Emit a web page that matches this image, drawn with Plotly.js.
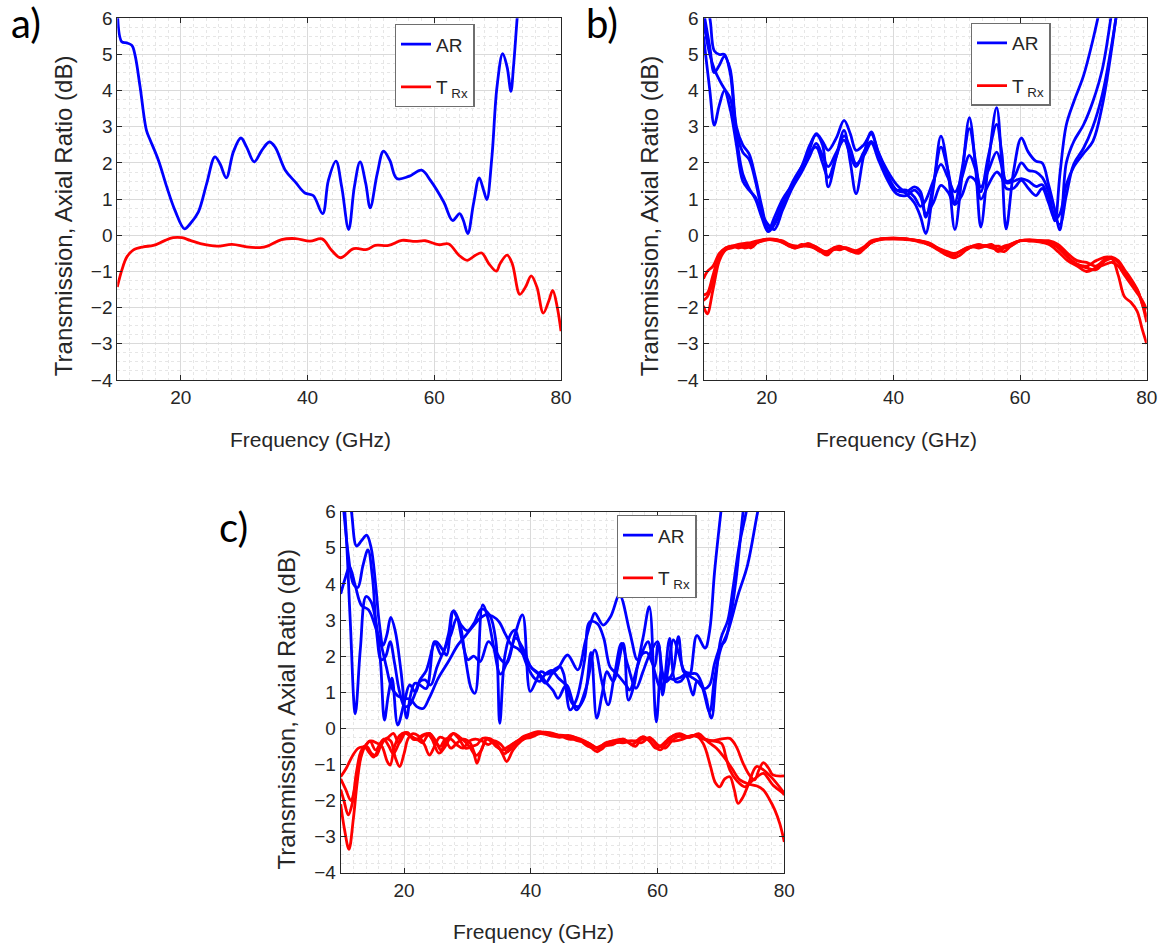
<!DOCTYPE html>
<html>
<head>
<meta charset="utf-8">
<script src="https://cdn.plot.ly/plotly-3.0.1.min.js"></script>
<style>
  html, body { margin: 0; padding: 0; background: #ffffff; }
  #chart { width: 1160px; height: 947px; }
</style>
</head>
<body>
<div id="chart"></div>
<script>
// ---------------- DATA ----------------
const X_TICKS = [20, 40, 60, 80];
const Y_TICKS = [-4, -3, -2, -1, 0, 1, 2, 3, 4, 5, 6];
const PANEL_LABELS = ['a)', 'b)', 'c)'];
const X_TITLE = 'Frequency (GHz)';
const Y_TITLE = 'Transmission, Axial Ratio (dB)';
const SERIES_NAMES = ['AR', 'T<sub> Rx</sub>'];

// Panel a
const A_FREQ_AR = [10, 10.7, 11.5, 12.3, 12.8, 13.6, 14.6, 15.2, 16.5, 17.8, 19.1, 20.6, 21.5, 22.8, 24.1, 25.4, 26.2, 27.2, 28.3, 29.5, 30.4, 31.6, 32.8, 34.0, 34.9, 36.5, 38.1, 39.6, 40.9, 42.4, 43.3, 44.5, 45.4, 46.5, 47.4, 48.3, 49.2, 49.9, 51.0, 52.0, 53.0, 54.1, 56.0, 58.0, 59.4, 61.5, 62.9, 64.0, 64.6, 65.3, 66.2, 67.1, 67.8, 68.3, 69.1, 69.9, 70.8, 71.5, 72.1, 72.5, 73.1, 73.8];
const A_AR = [6.3, 5.35, 5.32, 5.25, 4.98, 4.1, 2.9, 2.63, 2.07, 1.34, 0.69, 0.18, 0.32, 0.65, 1.43, 2.17, 1.98, 1.59, 2.3, 2.69, 2.44, 2.03, 2.35, 2.58, 2.44, 1.8, 1.47, 1.17, 1.1, 0.6, 1.52, 2.05, 1.34, 0.16, 1.34, 2.03, 1.43, 0.76, 1.7, 2.33, 2.07, 1.57, 1.63, 1.8, 1.52, 0.92, 0.41, 0.6, 0.41, 0.05, 0.88, 1.59, 1.24, 0.99, 2.17, 4.1, 5.02, 4.65, 3.98, 4.65, 6.04, 7.5];
const A_FREQ_T = [10, 10.7, 11.5, 12.5, 14.1, 15.7, 17.3, 18.8, 20.2, 21.5, 23.1, 25.7, 28.1, 30.4, 32.5, 33.8, 35.9, 38.1, 40.4, 42.3, 43.8, 45.2, 47.3, 49.4, 50.7, 52.8, 54.9, 57.0, 58.6, 60.7, 62.3, 63.9, 65.2, 66.5, 67.5, 68.6, 69.8, 70.4, 71.5, 72.3, 73.5, 74.4, 75.3, 76.2, 77.2, 78.1, 78.7, 79.4, 80];
const A_T = [-1.43, -0.97, -0.6, -0.41, -0.32, -0.28, -0.16, -0.065, -0.065, -0.14, -0.23, -0.3, -0.25, -0.32, -0.34, -0.29, -0.12, -0.09, -0.16, -0.1, -0.41, -0.62, -0.37, -0.39, -0.28, -0.28, -0.14, -0.17, -0.15, -0.26, -0.24, -0.55, -0.69, -0.55, -0.49, -0.78, -0.99, -0.78, -0.55, -0.78, -1.63, -1.43, -1.12, -1.43, -2.15, -1.8, -1.52, -1.98, -2.65];

// Panel b
const B_FREQ_AR = [10, 11, 11.7, 12.5, 13.3, 14.2, 15.2, 16.2, 17.2, 18.2, 19.2, 20.2, 21.2, 22.5, 24, 25.5, 26.8, 27.8, 28.8, 29.7, 31, 32.2, 33.2, 34.1, 35.3, 36.5, 37.6, 39, 40.5, 42, 43.3, 44.3, 45.1, 46.3, 47.5, 48.6, 49.7, 50.8, 52, 53, 53.8, 55, 56.3, 57.1, 57.8, 59, 60.2, 61.3, 62.5, 63.5, 64.5, 65.5, 66.3, 67.3, 68.5, 70, 71.5, 73, 74.5, 76];
const B_AR1 = [6.6, 6.0, 5.1, 5.0, 5.0, 4.5, 2.9, 2.3, 2.1, 1.5, 0.7, 0.12, 0.5, 1.0, 1.4, 1.9, 2.5, 2.78, 2.5, 1.34, 2.2, 2.9, 2.0, 1.15, 2.2, 2.86, 2.3, 1.8, 1.4, 1.15, 0.9, 0.5, 0.05, 1.3, 2.74, 1.8, 0.16, 1.6, 3.25, 1.8, 0.23, 2.0, 3.53, 2.0, 0.18, 1.8, 2.69, 2.3, 2.05, 2.0, 1.4, 0.7, 0.15, 2.0, 2.6, 3.05, 3.7, 4.6, 6.2, 8.0];
const B_AR2 = [6.2, 5.2, 4.5, 4.7, 4.95, 4.6, 3.0, 2.5, 2.25, 1.6, 0.8, 0.2, 0.35, 0.9, 1.35, 1.8, 2.4, 2.81, 2.6, 2.35, 2.7, 3.18, 2.8, 2.35, 2.5, 2.8, 2.3, 1.7, 1.25, 1.2, 1.34, 1.2, 0.5, 1.4, 2.44, 1.8, 0.92, 1.8, 2.95, 2.0, 1.2, 2.2, 3.07, 2.3, 1.5, 1.6, 2.0, 1.8, 1.75, 1.6, 1.2, 0.4, 1.7, 3.05, 3.7, 4.4, 5.4, 6.6, 8.0, 9.5];
const B_AR3 = [5.5, 4.0, 3.05, 3.6, 4.0, 3.5, 2.5, 1.5, 1.25, 1.05, 0.6, 0.3, 0.16, 0.7, 1.3, 1.75, 2.2, 2.54, 2.2, 1.9, 2.3, 2.63, 2.2, 1.9, 2.3, 2.6, 2.2, 1.6, 1.25, 1.25, 1.06, 0.8, 0.97, 1.5, 1.96, 1.6, 1.2, 1.6, 2.21, 1.8, 1.34, 1.8, 2.3, 1.9, 1.45, 1.5, 1.57, 1.5, 1.35, 1.4, 1.0, 0.5, 0.3, 1.1, 1.98, 2.4, 3.0, 3.9, 5.3, 7.0];
const B_AR4 = [5.9, 5.0, 4.6, 4.3, 4.05, 3.8, 2.7, 1.7, 1.3, 1.0, 0.5, 0.1, 0.3, 0.8, 1.45, 1.9, 2.3, 2.44, 2.0, 1.6, 2.2, 2.75, 2.4, 1.98, 2.2, 2.55, 2.1, 1.55, 1.15, 1.1, 1.25, 1.06, 0.6, 0.9, 1.38, 1.2, 0.85, 1.1, 1.61, 1.5, 1.0, 1.4, 1.75, 1.6, 1.3, 1.3, 1.52, 1.3, 1.1, 1.3, 0.9, 0.45, 0.6, 1.4, 1.9, 2.26, 2.6, 3.6, 5.2, 7.2];
const B_FREQ_T = [10, 10.6, 11.5, 12.5, 13.5, 14.5, 15.5, 16.5, 17.5, 18.5, 19.5, 20.5, 21.5, 22.5, 23.5, 24.5, 25.5, 26.5, 27.5, 28.5, 29.5, 30.5, 31.5, 32.5, 33.5, 34.5, 35.5, 36.5, 38, 40, 42, 44, 45.5, 47, 48.5, 49.5, 50.5, 51.5, 52.5, 53.5, 54.5, 55.5, 56.5, 57.5, 58.5, 60, 61.5, 63, 64.5, 66, 67.5, 69, 70.5, 72, 73.5, 74.5, 75.5, 76.5, 77.5, 78.5, 79.3, 80];
const B_T1 = [-1.95, -2.17, -1.5, -0.7, -0.4, -0.3, -0.28, -0.25, -0.35, -0.2, -0.12, -0.1, -0.12, -0.2, -0.3, -0.35, -0.25, -0.3, -0.35, -0.45, -0.55, -0.4, -0.35, -0.35, -0.45, -0.5, -0.35, -0.2, -0.1, -0.08, -0.1, -0.15, -0.2, -0.35, -0.55, -0.62, -0.55, -0.4, -0.32, -0.35, -0.3, -0.25, -0.4, -0.45, -0.3, -0.15, -0.15, -0.15, -0.2, -0.3, -0.6, -0.8, -0.9, -0.95, -0.7, -0.65, -1.1, -1.7, -1.85, -2.1, -2.6, -3.0];
const B_T2 = [-1.2, -1.0, -0.85, -0.5, -0.35, -0.3, -0.25, -0.22, -0.2, -0.15, -0.12, -0.12, -0.13, -0.15, -0.25, -0.3, -0.3, -0.22, -0.3, -0.4, -0.45, -0.35, -0.3, -0.38, -0.45, -0.4, -0.3, -0.15, -0.1, -0.08, -0.1, -0.15, -0.25, -0.35, -0.45, -0.5, -0.45, -0.35, -0.3, -0.25, -0.3, -0.3, -0.3, -0.35, -0.25, -0.15, -0.12, -0.15, -0.15, -0.25, -0.5, -0.7, -0.75, -0.85, -0.65, -0.6, -0.7, -0.95, -1.2, -1.5, -1.9, -2.4];
const B_T3 = [-1.65, -1.6, -1.1, -0.55, -0.35, -0.3, -0.35, -0.3, -0.25, -0.2, -0.13, -0.12, -0.15, -0.2, -0.28, -0.3, -0.3, -0.3, -0.3, -0.4, -0.5, -0.4, -0.35, -0.35, -0.42, -0.45, -0.35, -0.2, -0.1, -0.1, -0.1, -0.18, -0.25, -0.4, -0.55, -0.55, -0.45, -0.4, -0.3, -0.3, -0.28, -0.3, -0.45, -0.35, -0.3, -0.15, -0.15, -0.18, -0.25, -0.45, -0.7, -0.85, -1.0, -0.9, -0.8, -0.75, -0.85, -1.1, -1.35, -1.6, -1.8, -2.05];
const B_T4 = [-1.8, -1.7, -1.3, -0.6, -0.4, -0.35, -0.3, -0.35, -0.3, -0.2, -0.15, -0.12, -0.12, -0.18, -0.28, -0.35, -0.3, -0.25, -0.35, -0.45, -0.45, -0.38, -0.4, -0.35, -0.4, -0.45, -0.35, -0.2, -0.12, -0.1, -0.12, -0.15, -0.22, -0.38, -0.5, -0.55, -0.45, -0.35, -0.32, -0.3, -0.3, -0.35, -0.38, -0.3, -0.25, -0.15, -0.15, -0.15, -0.2, -0.35, -0.6, -0.8, -0.85, -0.7, -0.6, -0.62, -0.75, -1.0, -1.3, -1.5, -1.9, -2.25];

// Panel c
const C_FREQ_AR1 = [10, 10.7, 11.4, 12.3, 13.3, 14.4, 15.5, 16.4, 17.2, 18.0, 19.0, 20.0, 21.0, 22.0, 23.0, 24.0, 25.4, 27.0, 28.5, 29.8, 31.0, 32.0, 33.0, 34.0, 35.0, 36.0, 37.0, 38.0, 39.0, 40.0, 41.4, 42.5, 43.5, 44.3, 45.6, 47.2, 48.7, 50.1, 51.2, 52.2, 53.2, 54.3, 55.3, 56.6, 57.7, 58.7, 60.0, 60.8, 61.9, 62.8, 63.6, 64.5, 65.6, 66.2, 66.9, 68.2, 69.0, 70.0, 71.1, 72.7, 74.2, 75.8, 77.0];
const C_AR1 = [3.72, 4.15, 4.48, 3.95, 3.4, 3.28, 2.8, 2.3, 1.7, 1.15, 0.9, 0.83, 0.8, 0.6, 0.55, 0.85, 1.39, 1.85, 2.31, 2.59, 2.85, 3.05, 3.15, 3.1, 2.95, 2.6, 2.3, 2.2, 2.0, 1.7, 1.5, 1.25, 1.05, 0.83, 1.2, 0.51, 1.11, 2.17, 1.3, 0.65, 1.48, 2.35, 1.75, 1.11, 1.57, 2.03, 2.4, 0.92, 2.49, 1.3, 1.3, 1.45, 0.92, 1.3, 1.2, 0.46, 1.39, 2.22, 2.68, 3.69, 4.52, 6.0, 7.0];
const C_FREQ_AR2 = [10, 10.8, 11.5, 12.3, 13.1, 14.0, 14.8, 15.6, 16.3, 16.9, 17.5, 18.1, 19.0, 20.0, 20.9, 21.8, 22.5, 23.5, 25.0, 26.0, 26.7, 27.8, 28.8, 29.8, 30.6, 31.2, 32.4, 33.3, 34.2, 35.2, 36.4, 37.6, 38.8, 40.0, 41.2, 42.3, 43.3, 44.3, 45.8, 47.4, 48.6, 49.5, 50.1, 51.4, 52.6, 54.0, 55.6, 56.8, 57.7, 58.7, 59.8, 60.6, 61.2, 62.5, 63.3, 64.3, 65.3, 66.2, 67.4, 68.5, 69.2, 70.0, 71.1, 71.9, 72.9, 74.0, 75.0];
const C_AR2 = [7.5, 5.6, 3.0, 0.4, 2.2, 3.65, 3.5, 2.9, 1.8, 0.23, 0.9, 1.39, 0.09, 0.7, 1.2, 1.0, 1.34, 1.6, 2.4, 2.2, 2.03, 3.26, 2.9, 1.8, 1.1, 0.97, 3.42, 3.0, 2.2, 1.5, 1.9, 2.5, 2.2, 1.7, 1.5, 1.25, 1.5, 1.66, 2.03, 1.62, 2.4, 2.95, 3.19, 2.86, 3.1, 3.69, 2.68, 1.9, 2.5, 3.37, 0.18, 1.6, 1.29, 2.45, 2.1, 1.57, 1.52, 1.5, 1.02, 0.28, 1.39, 2.49, 3.0, 3.88, 5.08, 6.0, 7.0];
const C_FREQ_AR3 = [10, 11.0, 11.7, 12.5, 13.3, 14.1, 14.8, 15.5, 16.1, 16.7, 17.3, 17.9, 18.6, 19.5, 20.4, 21.0, 21.7, 22.5, 23.5, 24.8, 25.9, 27.0, 27.7, 29.0, 30.0, 31.0, 32.2, 33.5, 34.5, 35.1, 35.9, 36.8, 37.5, 38.3, 39.5, 40.5, 41.4, 42.3, 43.3, 44.3, 45.5, 46.5, 47.5, 48.5, 49.5, 50.4, 51.3, 52.0, 53.0, 54.6, 55.4, 56.3, 57.3, 58.3, 59.5, 60.1, 61.2, 62.3, 63.3, 64.1, 65.0, 66.2, 67.5, 68.2, 69.0, 70.0, 71.0];
const C_AR3 = [8.0, 6.8, 6.0, 5.05, 5.2, 5.35, 5.0, 4.0, 2.9, 2.3, 2.6, 3.07, 2.7, 1.6, 0.28, 0.9, 1.25, 1.2, 1.1, 2.4, 2.03, 2.6, 3.23, 2.86, 2.7, 2.9, 3.3, 3.14, 2.4, 0.14, 2.0, 2.6, 2.72, 2.3, 1.7, 1.4, 1.3, 1.5, 1.6, 1.4, 1.2, 0.7, 0.6, 0.88, 2.1, 0.28, 1.0, 1.57, 1.3, 2.35, 0.78, 1.2, 2.0, 2.1, 1.7, 2.35, 1.29, 1.5, 2.54, 1.57, 1.45, 2.57, 2.22, 2.68, 4.34, 6.0, 7.5];
const C_FREQ_AR4 = [10, 10.5, 11.2, 12.0, 12.7, 13.5, 14.3, 15.0, 15.7, 16.4, 17.1, 17.8, 18.5, 19.3, 20.1, 20.9, 21.6, 22.5, 23.3, 24.2, 25.2, 26.4, 27.4, 28.3, 29.2, 30.1, 31.0, 32.0, 33.3, 34.3, 35.3, 36.2, 37.5, 38.7, 39.9, 40.8, 41.6, 42.6, 43.5, 44.6, 45.2, 46.2, 47.2, 48.5, 49.3, 50.5, 51.5, 52.5, 53.5, 55.0, 55.6, 56.8, 57.8, 58.5, 59.5, 60.5, 61.5, 62.5, 63.5, 64.5, 65.5, 66.3, 67.3, 68.2, 69.0, 70.0, 70.6, 71.4, 72.3, 73.5, 74.5];
const C_AR4 = [7.0, 6.0, 4.8, 4.0, 3.9, 4.5, 4.94, 4.2, 2.6, 1.9, 2.0, 2.4, 1.8, 1.0, 0.6, 0.65, 0.9, 1.3, 1.34, 1.2, 1.7, 2.2, 2.6, 3.05, 2.4, 1.9, 2.0, 1.85, 2.4, 2.2, 1.9, 1.8, 2.6, 3.14, 1.02, 1.3, 1.57, 1.5, 1.6, 1.71, 1.5, 0.51, 0.8, 1.9, 2.95, 2.9, 2.5, 1.7, 1.52, 1.2, 1.06, 1.7, 2.2, 2.4, 1.6, 1.1, 1.4, 1.35, 1.4, 1.5, 1.4, 1.3, 1.1, 1.2, 1.8, 2.3, 2.4, 2.95, 4.0, 6.0, 7.5];
const C_FREQ_T1 = [10, 10.9, 11.9, 12.8, 13.8, 14.6, 15.5, 16.5, 17.5, 18.3, 19.2, 20.2, 21.2, 22.0, 22.9, 24.0, 25.0, 25.8, 26.6, 27.7, 28.7, 29.7, 30.7, 31.5, 32.4, 33.5, 34.5, 35.5, 36.5, 37.5, 38.8, 40.2, 41.5, 43.0, 44.5, 46.0, 47.5, 49.0, 50.5, 51.8, 53.0, 54.6, 56.0, 57.4, 58.5, 59.7, 60.8, 62.0, 63.0, 64.3, 65.6, 66.9, 68.5, 70.0, 71.4, 72.4, 73.5, 74.5, 75.3, 76.0, 76.7, 77.5, 78.2, 80.0];
const C_T1 = [-1.34, -1.1, -0.75, -0.55, -0.5, -0.35, -0.6, -0.35, -0.25, -0.14, -0.4, -0.14, -0.25, -0.3, -0.4, -0.14, -0.35, -0.6, -0.35, -0.15, -0.3, -0.55, -0.5, -0.45, -0.28, -0.3, -0.5, -0.6, -0.5, -0.4, -0.25, -0.15, -0.1, -0.15, -0.2, -0.25, -0.35, -0.4, -0.55, -0.4, -0.35, -0.3, -0.45, -0.25, -0.3, -0.55, -0.45, -0.25, -0.2, -0.25, -0.2, -0.28, -0.35, -0.3, -0.28, -0.5, -0.97, -1.3, -1.43, -1.15, -0.95, -1.1, -1.29, -1.32];
const C_FREQ_T2 = [10, 10.6, 11.3, 12.0, 12.6, 13.2, 14.0, 14.8, 15.6, 16.5, 17.3, 17.8, 18.5, 19.3, 20.2, 21.0, 22.0, 22.8, 23.6, 24.4, 25.5, 26.5, 27.8, 28.8, 29.8, 31.0, 31.5, 32.2, 33.2, 34.5, 35.5, 36.2, 37.2, 38.5, 40.0, 41.5, 43.0, 44.5, 46.0, 47.5, 49.0, 50.5, 51.5, 53.0, 54.5, 55.5, 56.5, 57.7, 59.0, 60.4, 61.5, 62.5, 63.5, 65.0, 66.0, 67.2, 68.3, 69.1, 69.8, 70.6, 71.4, 72.1, 72.7, 73.5, 74.3, 75.6, 76.7, 78.2, 80.0];
const C_T2 = [-2.1, -2.8, -3.35, -2.5, -1.5, -0.8, -0.45, -0.35, -0.4, -0.5, -0.9, -1.02, -0.5, -0.2, -0.12, -0.2, -0.3, -0.2, -0.15, -0.3, -0.69, -0.5, -0.14, -0.25, -0.4, -0.7, -0.97, -0.6, -0.28, -0.4, -0.7, -0.92, -0.6, -0.35, -0.2, -0.12, -0.12, -0.2, -0.3, -0.3, -0.45, -0.65, -0.5, -0.45, -0.3, -0.4, -0.5, -0.23, -0.4, -0.6, -0.4, -0.2, -0.15, -0.25, -0.2, -0.42, -1.02, -1.5, -1.62, -1.4, -1.34, -1.7, -2.08, -1.9, -1.57, -1.06, -1.15, -1.4, -1.8];
const C_FREQ_T3 = [10, 10.5, 11.2, 11.8, 12.5, 13.3, 14.1, 14.9, 15.6, 16.3, 17.1, 17.9, 18.6, 19.3, 20.0, 20.6, 21.3, 22.2, 23.2, 24.0, 24.8, 25.6, 26.4, 27.4, 28.4, 29.4, 30.4, 31.4, 32.2, 33.0, 34.0, 35.0, 35.9, 37.0, 38.5, 40.0, 41.5, 43.0, 44.5, 46.0, 47.5, 49.0, 50.2, 51.5, 53.0, 54.5, 56.0, 57.5, 58.7, 60.0, 61.2, 62.5, 63.8, 65.0, 66.5, 67.5, 68.3, 69.3, 70.4, 71.7, 73.0, 74.5, 75.7, 76.7, 77.6, 78.5, 79.3, 80.0];
const C_T3 = [-1.7, -2.0, -2.4, -2.1, -1.2, -0.6, -0.5, -0.7, -0.75, -0.5, -0.3, -0.35, -0.8, -1.06, -0.7, -0.3, -0.15, -0.2, -0.45, -0.74, -0.5, -0.25, -0.3, -0.55, -0.4, -0.3, -0.4, -0.75, -0.6, -0.3, -0.4, -0.55, -0.7, -0.45, -0.3, -0.25, -0.15, -0.2, -0.25, -0.2, -0.3, -0.5, -0.55, -0.45, -0.35, -0.4, -0.35, -0.4, -0.25, -0.45, -0.55, -0.3, -0.2, -0.25, -0.15, -0.3, -0.42, -0.55, -0.78, -1.1, -1.43, -1.55, -1.6, -1.71, -1.95, -2.26, -2.65, -3.15];
const C_FREQ_T4 = [10, 10.8, 11.6, 12.3, 13.0, 13.7, 14.4, 15.2, 16.0, 16.8, 17.6, 18.3, 19.1, 19.8, 20.6, 21.4, 22.3, 23.1, 24.0, 24.8, 25.7, 26.5, 27.4, 28.3, 29.3, 30.3, 31.3, 32.3, 33.3, 34.3, 35.3, 36.3, 37.4, 38.6, 39.5, 41.1, 42.5, 44.0, 45.5, 47.0, 48.5, 50.0, 51.0, 52.0, 53.5, 55.0, 56.5, 57.7, 59.0, 60.3, 61.5, 62.8, 64.0, 65.5, 66.5, 67.5, 68.7, 70.1, 70.8, 71.4, 72.5, 73.8, 75.1, 76.7, 77.5, 78.2, 79.8, 80.0];
const C_T4 = [-1.4, -1.7, -2.0, -1.6, -0.9, -0.5, -0.65, -0.8, -0.55, -0.3, -0.5, -0.7, -0.45, -0.15, -0.12, -0.3, -0.3, -0.2, -0.14, -0.35, -0.5, -0.3, -0.3, -0.45, -0.55, -0.35, -0.3, -0.35, -0.45, -0.35, -0.45, -0.65, -0.46, -0.25, -0.18, -0.09, -0.15, -0.18, -0.2, -0.25, -0.35, -0.5, -0.6, -0.45, -0.4, -0.35, -0.35, -0.3, -0.3, -0.5, -0.35, -0.35, -0.3, -0.2, -0.2, -0.3, -0.35, -0.42, -0.8, -1.15, -1.45, -1.62, -1.43, -1.25, -1.4, -1.57, -1.8, -1.85];

// ---------------- STYLE ----------------
const W = 1160, H = 947;
const FONT = 'Liberation Sans, Arial, sans-serif';
const TXT = '#262626';
const BLUE = '#0000ff', RED = '#ff0000';
// plot areas in pixels [left, right, top, bottom]
const BOX = [
  [117.3, 561.0, 18.3, 380.0],
  [703.5, 1146.7, 18.3, 380.0],
  [340.7, 784.3, 511.7, 872.7]
];
const sfx = ['', '2', '3'];

function line(x, y, color, p, name, show, group) {
  return {
    x: x, y: y, type: 'scatter', mode: 'lines', name: name,
    line: {color: color, width: 2.8, shape: 'spline', smoothing: 1},
    xaxis: 'x' + sfx[p], yaxis: 'y' + sfx[p],
    showlegend: show, legend: 'legend' + sfx[p], legendgroup: group + p,
    hoverinfo: 'skip'
  };
}

const traces = [
  line(A_FREQ_AR, A_AR, BLUE, 0, SERIES_NAMES[0], true, 'ar'),
  line(A_FREQ_T, A_T, RED, 0, SERIES_NAMES[1], true, 't'),

  line(B_FREQ_AR, B_AR1, BLUE, 1, SERIES_NAMES[0], true, 'ar'),
  line(B_FREQ_AR, B_AR2, BLUE, 1, SERIES_NAMES[0], false, 'ar'),
  line(B_FREQ_AR, B_AR3, BLUE, 1, SERIES_NAMES[0], false, 'ar'),
  line(B_FREQ_AR, B_AR4, BLUE, 1, SERIES_NAMES[0], false, 'ar'),
  line(B_FREQ_T, B_T1, RED, 1, SERIES_NAMES[1], true, 't'),
  line(B_FREQ_T, B_T2, RED, 1, SERIES_NAMES[1], false, 't'),
  line(B_FREQ_T, B_T3, RED, 1, SERIES_NAMES[1], false, 't'),
  line(B_FREQ_T, B_T4, RED, 1, SERIES_NAMES[1], false, 't'),

  line(C_FREQ_AR1, C_AR1, BLUE, 2, SERIES_NAMES[0], true, 'ar'),
  line(C_FREQ_AR2, C_AR2, BLUE, 2, SERIES_NAMES[0], false, 'ar'),
  line(C_FREQ_AR3, C_AR3, BLUE, 2, SERIES_NAMES[0], false, 'ar'),
  line(C_FREQ_AR4, C_AR4, BLUE, 2, SERIES_NAMES[0], false, 'ar'),
  line(C_FREQ_T1, C_T1, RED, 2, SERIES_NAMES[1], true, 't'),
  line(C_FREQ_T2, C_T2, RED, 2, SERIES_NAMES[1], false, 't'),
  line(C_FREQ_T3, C_T3, RED, 2, SERIES_NAMES[1], false, 't'),
  line(C_FREQ_T4, C_T4, RED, 2, SERIES_NAMES[1], false, 't')
];

const axCommon = {
  ticks: 'inside', ticklen: 5, tickwidth: 1, tickcolor: TXT,
  showline: true, linecolor: TXT, linewidth: 1, mirror: 'ticks',
  showgrid: true, gridcolor: '#dadada', gridwidth: 1,
  zeroline: false, fixedrange: true,
  tickfont: {family: FONT, size: 19, color: TXT}
};

const layout = {
  width: W, height: H,
  margin: {l: 0, r: 0, t: 0, b: 0},
  paper_bgcolor: '#ffffff', plot_bgcolor: '#ffffff',
  showlegend: true,
  annotations: [],
  font: {family: FONT, color: TXT}
};

const LEGEND_POS = [[394.7, 24], [970.7, 22.7], [616.7, 515]];
const PANEL_LABEL_POS = [[26, 23], [602, 23], [234, 527]];

for (let p = 0; p < 3; p++) {
  const b = BOX[p];
  const xd = [b[0] / W, b[1] / W];
  const yd = [1 - b[3] / H, 1 - b[2] / H];
  layout['xaxis' + sfx[p]] = Object.assign({}, axCommon, {
    domain: xd, range: [10, 80], tickvals: X_TICKS, anchor: 'y' + sfx[p],
    minor: {dtick: 2, tick0: 0, showgrid: true, gridcolor: '#e6e6e6', griddash: 'dot', gridwidth: 1, ticks: ''}
  });
  layout['yaxis' + sfx[p]] = Object.assign({}, axCommon, {
    domain: yd, range: [-4, 6], tickvals: Y_TICKS, anchor: 'x' + sfx[p],
    minor: {dtick: 0.25, tick0: 0, showgrid: true, gridcolor: '#e6e6e6', griddash: 'dot', gridwidth: 1, ticks: ''}
  });
  layout['legend' + sfx[p]] = {
    x: LEGEND_POS[p][0] / W, y: 1 - LEGEND_POS[p][1] / H,
    xanchor: 'left', yanchor: 'top',
    bgcolor: '#ffffff', bordercolor: '#6e6e6e', borderwidth: 1.3,
    font: {family: FONT, size: 19, color: TXT},
    traceorder: 'grouped', tracegroupgap: 15, itemwidth: 30
  };
  // x title
  const xc = (b[0] + b[1]) / 2 - 29;
  layout.annotations.push({
    text: X_TITLE, xref: 'paper', yref: 'paper', showarrow: false,
    x: xc / W, y: 1 - (b[3] + 59) / H, xanchor: 'center', yanchor: 'middle',
    font: {family: FONT, size: 21, color: TXT}
  });
  // y title
  layout.annotations.push({
    text: Y_TITLE, xref: 'paper', yref: 'paper', showarrow: false, textangle: -90,
    x: (b[0] - 54.3) / W, y: 1 - ((b[2] + b[3]) / 2 + 17) / H, xanchor: 'center', yanchor: 'middle',
    font: {family: FONT, size: 24, color: TXT}
  });
  // panel label
  layout.annotations.push({
    text: PANEL_LABELS[p], xref: 'paper', yref: 'paper', showarrow: false,
    x: PANEL_LABEL_POS[p][0] / W, y: 1 - PANEL_LABEL_POS[p][1] / H, xanchor: 'center', yanchor: 'middle',
    font: {family: 'Lato, Open Sans, sans-serif', size: 40, color: '#000000'}
  });
}

Plotly.newPlot('chart', traces, layout, {displayModeBar: false, staticPlot: true});
</script>
</body>
</html>
